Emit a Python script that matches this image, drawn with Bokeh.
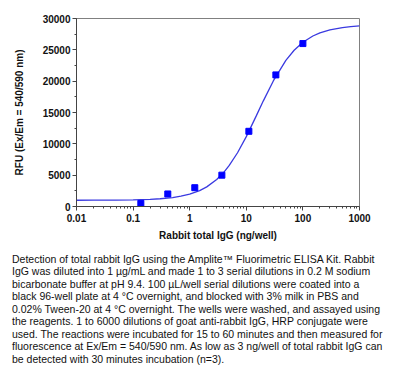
import html
from bokeh.plotting import figure
from bokeh.layouts import column
from bokeh.models import Range1d, FixedTicker, SingleIntervalTicker, Div
from bokeh.embed import file_html
from bokeh.resources import INLINE

# Measured points (ng/well vs RFU)
x_points = [0.137, 0.41, 1.23, 3.7, 11.1, 33.3, 100]
y_points = [500, 2000, 3000, 5000, 12000, 21000, 26000]

# Fitted curve
curve_x = [0.01, 0.02, 0.05, 0.1, 0.2, 0.3, 0.5, 0.7, 1, 1.5, 2, 3, 4, 5, 7,
           10, 15, 20, 30, 50, 70, 100, 150, 200, 300, 500, 700, 1000]
curve_y = [1000, 1010, 1030, 1060, 1145, 1235, 1430, 1640, 1970, 2545, 3135,
           4310, 5450, 6560, 8580, 11150, 14460, 16860, 20040, 23320, 24930,
           26210, 27210, 27710, 28190, 28560, 28700, 28810]

x_ticks = [0.01, 0.1, 1, 10, 100, 1000]
x_tick_labels = ["0.01", "0.1", "1", "10", "100", "1000"]
y_ticks = [0, 5000, 10000, 15000, 20000, 25000, 30000]
y_tick_labels = ["0", "5000", "10000", "15000", "20000", "25000", "30000"]

x_title = "Rabbit total IgG (ng/well)"
y_title = "RFU (Ex/Em = 540/590 nm)"

caption_lines = [
    "Detection of total rabbit IgG using the Amplite\u2122 Fluorimetric ELISA Kit. Rabbit",
    "IgG was diluted into 1 \u00b5g/mL and made 1 to 3 serial dilutions in 0.2 M sodium",
    "bicarbonate buffer at pH 9.4. 100 \u00b5L/well serial dilutions were coated into a",
    "black 96-well plate at 4 \u00b0C overnight, and blocked with 3% milk in PBS and",
    "0.02% Tween-20 at 4 \u00b0C overnight. The wells were washed, and assayed using",
    "the reagents. 1 to 6000 dilutions of goat anti-rabbit IgG, HRP conjugate were",
    "used. The reactions were incubated for 15 to 60 minutes and then measured for",
    "fluorescence at Ex/Em = 540/590 nm. As low as 3 ng/well of total rabbit IgG can",
    "be detected with 30 minutes incubation (n=3).",
]

FONT = "Liberation Sans"
W = 397
H1 = 244                           # chart canvas height
H2 = 128                           # caption height
FL, FR, FT, FB = 76, 359, 18, 206  # frame edges in chart canvas pixels

p = figure(width=W, height=H1, x_axis_type="log",
           x_range=Range1d(0.01, 1000), y_range=Range1d(0, 30000),
           output_backend="svg", toolbar_location=None,
           min_border_left=FL, min_border_right=W - FR,
           min_border_top=FT, min_border_bottom=H1 - FB)

p.xgrid.visible = False
p.ygrid.visible = False
p.outline_line_color = "#808080"
p.outline_line_width = 1

minor_x = [m * 10.0 ** e for e in range(-2, 3) for m in range(2, 10)]
p.xaxis.ticker = FixedTicker(ticks=x_ticks, minor_ticks=minor_x)
p.xaxis.major_label_overrides = {t: s for t, s in zip(x_ticks, x_tick_labels)}
p.yaxis.ticker = SingleIntervalTicker(interval=5000, num_minor_ticks=2)
p.yaxis.major_label_overrides = {t: s for t, s in zip(y_ticks, y_tick_labels)}

for ax in (p.xaxis[0], p.yaxis[0]):
    ax.axis_line_color = "#444444"
    ax.major_tick_line_color = "#444444"
    ax.minor_tick_line_color = "#444444"
    ax.major_tick_in = 0
    ax.major_tick_out = 4
    ax.minor_tick_in = 0
    ax.minor_tick_out = 2
    ax.major_label_text_font = FONT
    ax.major_label_text_font_style = "bold"
    ax.major_label_text_font_size = "10px"
    ax.major_label_text_color = "#111111"
    ax.axis_label_text_font = FONT
    ax.axis_label_text_font_style = "bold"
    ax.axis_label_text_font_size = "10px"
    ax.axis_label_text_color = "#111111"

p.xaxis.axis_label = x_title
p.yaxis.axis_label = y_title
p.xaxis.major_label_standoff = 3
p.xaxis.axis_label_standoff = 5
p.yaxis.major_label_standoff = 2
p.yaxis.axis_label_standoff = 15

p.line(curve_x, curve_y, line_color="#3a3ae0", line_width=1.3)
p.scatter(x_points, y_points, marker="square", size=6,
          fill_color="#0000ff", line_color="#0000ff")

caption_html = "<br>".join(html.escape(s) for s in caption_lines)
cap = Div(text=caption_html, width=W, height=H2, margin=0,
          styles={"font-family": "'Liberation Sans', Arial, sans-serif",
                  "font-size": "10.5px", "line-height": "12.45px",
                  "color": "#111111", "white-space": "nowrap",
                  "padding-left": "12px", "padding-top": "9px",
                  "box-sizing": "border-box"})

layout = column(p, cap, spacing=0)
open("out.html", "w").write(file_html(layout, INLINE))
